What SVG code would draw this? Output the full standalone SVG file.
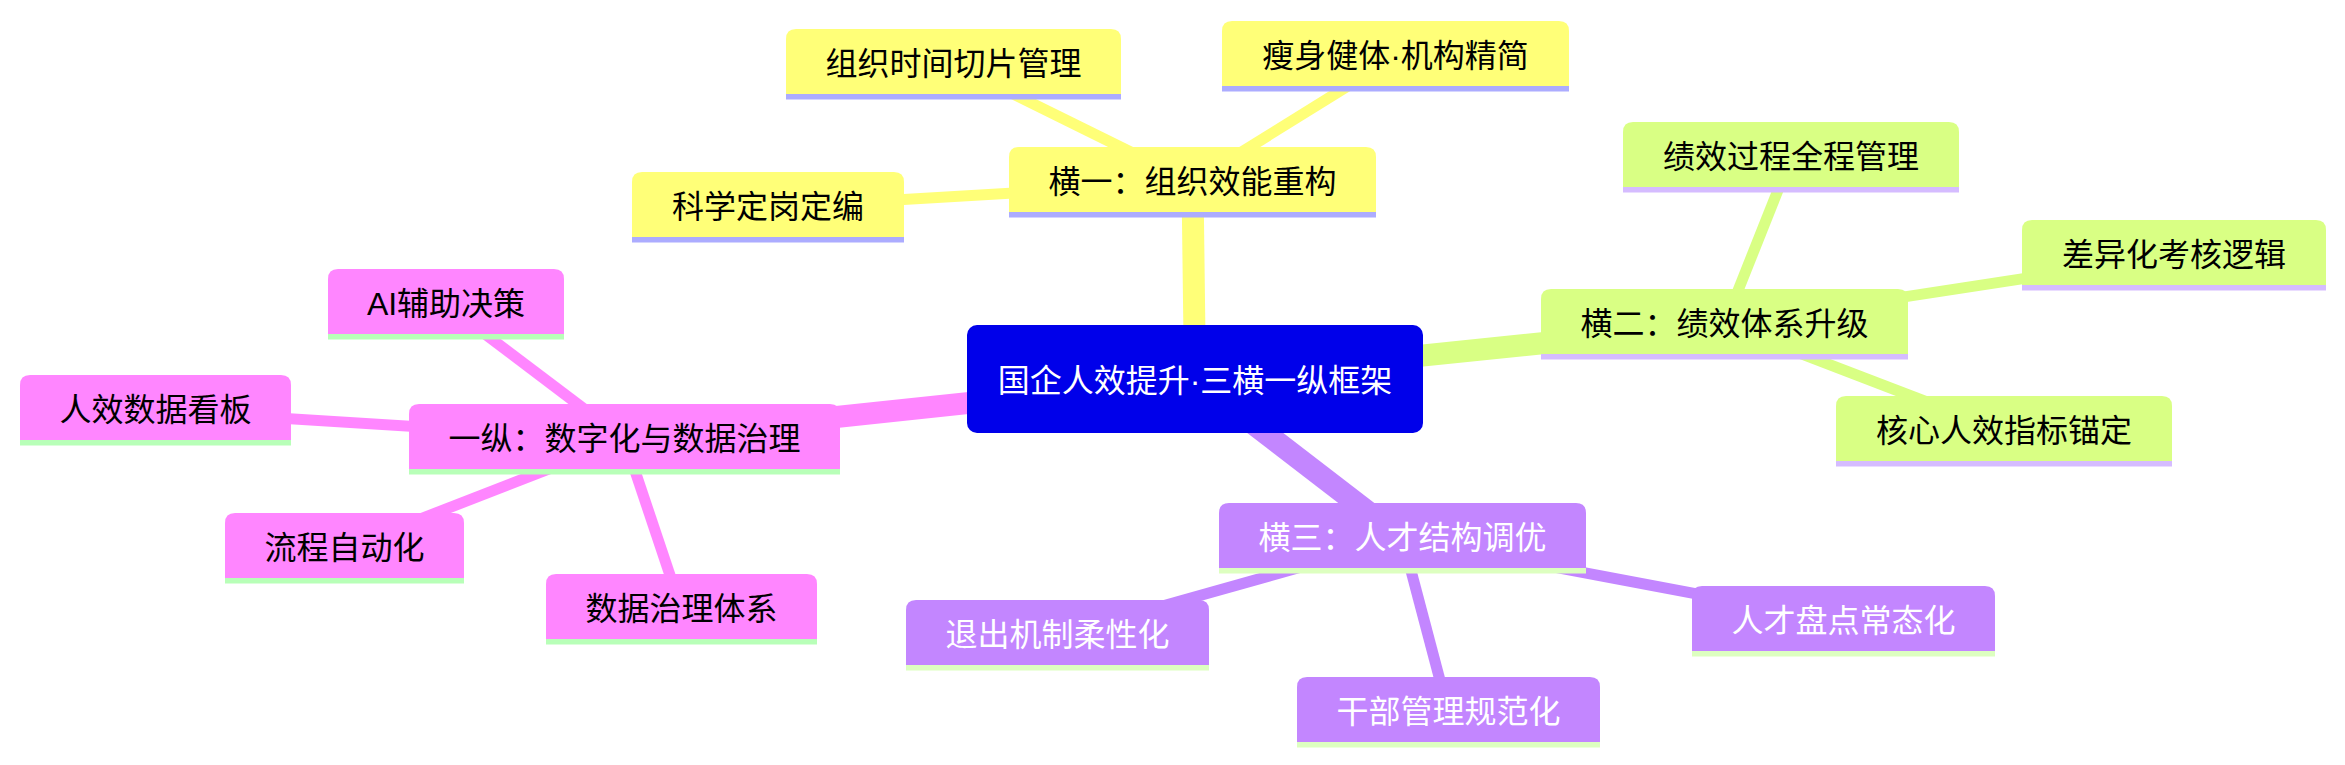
<svg xmlns="http://www.w3.org/2000/svg" width="2345" height="765" viewBox="0 0 2345 765">
<style>
text{font-family:"Liberation Sans","Noto Sans CJK SC",sans-serif;font-size:32px;text-anchor:middle}
.e0{stroke-width:22;stroke-linecap:butt;fill:none}
.e1{stroke-width:11;stroke-linecap:butt;fill:none}
.s0{fill:#ffff78}.s0e{stroke:#ffff78}.s0l{fill:#acacff}
.s1{fill:#d9ff84}.s1e{stroke:#d9ff84}.s1l{fill:#d5bcff}
.s2{fill:#c386ff}.s2e{stroke:#c386ff}.s2l{fill:#ddffc0}
.s3{fill:#ff86ff}.s3e{stroke:#ff86ff}.s3l{fill:#b8ffb8}
.dark{fill:#000}.light{fill:#fff}
</style>
<rect width="2345" height="765" fill="#fff"/>
<g id="connectors">
<line class="e0 s0e" x1="1195" y1="379" x2="1192.5" y2="182.5"/>
<line class="e1 s0e" x1="1192.5" y1="182.5" x2="953.5" y2="64.5"/>
<line class="e1 s0e" x1="1192.5" y1="182.5" x2="1395.5" y2="56.5"/>
<line class="e1 s0e" x1="1192.5" y1="182.5" x2="768" y2="207.5"/>
<line class="e0 s1e" x1="1195" y1="379" x2="1724.5" y2="324.5"/>
<line class="e1 s1e" x1="1724.5" y1="324.5" x2="1791" y2="157.5"/>
<line class="e1 s1e" x1="1724.5" y1="324.5" x2="2174" y2="255.5"/>
<line class="e1 s1e" x1="1724.5" y1="324.5" x2="2004" y2="431.5"/>
<line class="e0 s2e" x1="1195" y1="379" x2="1402.5" y2="538.5"/>
<line class="e1 s2e" x1="1402.5" y1="538.5" x2="1057.5" y2="635.5"/>
<line class="e1 s2e" x1="1402.5" y1="538.5" x2="1448.5" y2="712.5"/>
<line class="e1 s2e" x1="1402.5" y1="538.5" x2="1843.5" y2="621.5"/>
<line class="e0 s3e" x1="1195" y1="379" x2="624.5" y2="439.5"/>
<line class="e1 s3e" x1="624.5" y1="439.5" x2="446" y2="304.5"/>
<line class="e1 s3e" x1="624.5" y1="439.5" x2="155.5" y2="410.5"/>
<line class="e1 s3e" x1="624.5" y1="439.5" x2="344.5" y2="548.5"/>
<line class="e1 s3e" x1="624.5" y1="439.5" x2="681.5" y2="609.5"/>
</g>

<g id="root">
<rect x="967" y="325" width="456" height="108" rx="10" fill="#0000ea"/>
<text class="light" x="1195" y="392">国企人效提升·三横一纵框架</text>
</g>

<g id="h1">
<path class="s0" d="M1009,212 V157 Q1009,147 1019,147 H1366 Q1376,147 1376,157 V212 Z"/>
<rect class="s0l" x="1009" y="212" width="367" height="5.5"/>
<text class="dark" x="1192.5" y="193">横一：组织效能重构</text>
</g>
<g id="y1">
<path class="s0" d="M786,94 V39 Q786,29 796,29 H1111 Q1121,29 1121,39 V94 Z"/>
<rect class="s0l" x="786" y="94" width="335" height="5.5"/>
<text class="dark" x="953.5" y="75">组织时间切片管理</text>
</g>
<g id="y2">
<path class="s0" d="M1222,86 V31 Q1222,21 1232,21 H1559 Q1569,21 1569,31 V86 Z"/>
<rect class="s0l" x="1222" y="86" width="347" height="5.5"/>
<text class="dark" x="1395.5" y="67">瘦身健体·机构精简</text>
</g>
<g id="y3">
<path class="s0" d="M632,237 V182 Q632,172 642,172 H894 Q904,172 904,182 V237 Z"/>
<rect class="s0l" x="632" y="237" width="272" height="5.5"/>
<text class="dark" x="768" y="218">科学定岗定编</text>
</g>

<g id="h2">
<path class="s1" d="M1541,354 V299 Q1541,289 1551,289 H1898 Q1908,289 1908,299 V354 Z"/>
<rect class="s1l" x="1541" y="354" width="367" height="5.5"/>
<text class="dark" x="1724.5" y="335">横二：绩效体系升级</text>
</g>
<g id="g1">
<path class="s1" d="M1623,187 V132 Q1623,122 1633,122 H1949 Q1959,122 1959,132 V187 Z"/>
<rect class="s1l" x="1623" y="187" width="336" height="5.5"/>
<text class="dark" x="1791" y="168">绩效过程全程管理</text>
</g>
<g id="g2">
<path class="s1" d="M2022,285 V230 Q2022,220 2032,220 H2316 Q2326,220 2326,230 V285 Z"/>
<rect class="s1l" x="2022" y="285" width="304" height="5.5"/>
<text class="dark" x="2174" y="266">差异化考核逻辑</text>
</g>
<g id="g3">
<path class="s1" d="M1836,461 V406 Q1836,396 1846,396 H2162 Q2172,396 2172,406 V461 Z"/>
<rect class="s1l" x="1836" y="461" width="336" height="5.5"/>
<text class="dark" x="2004" y="442">核心人效指标锚定</text>
</g>

<g id="h3">
<path class="s2" d="M1219,568 V513 Q1219,503 1229,503 H1576 Q1586,503 1586,513 V568 Z"/>
<rect class="s2l" x="1219" y="568" width="367" height="5.5"/>
<text class="light" x="1402.5" y="549">横三：人才结构调优</text>
</g>
<g id="p1">
<path class="s2" d="M906,665 V610 Q906,600 916,600 H1199 Q1209,600 1209,610 V665 Z"/>
<rect class="s2l" x="906" y="665" width="303" height="5.5"/>
<text class="light" x="1057.5" y="646">退出机制柔性化</text>
</g>
<g id="p2">
<path class="s2" d="M1297,742 V687 Q1297,677 1307,677 H1590 Q1600,677 1600,687 V742 Z"/>
<rect class="s2l" x="1297" y="742" width="303" height="5.5"/>
<text class="light" x="1448.5" y="723">干部管理规范化</text>
</g>
<g id="p3">
<path class="s2" d="M1692,651 V596 Q1692,586 1702,586 H1985 Q1995,586 1995,596 V651 Z"/>
<rect class="s2l" x="1692" y="651" width="303" height="5.5"/>
<text class="light" x="1843.5" y="632">人才盘点常态化</text>
</g>

<g id="z">
<path class="s3" d="M409,469 V414 Q409,404 419,404 H830 Q840,404 840,414 V469 Z"/>
<rect class="s3l" x="409" y="469" width="431" height="5.5"/>
<text class="dark" x="624.5" y="450">一纵：数字化与数据治理</text>
</g>
<g id="k1">
<path class="s3" d="M328,334 V279 Q328,269 338,269 H554 Q564,269 564,279 V334 Z"/>
<rect class="s3l" x="328" y="334" width="236" height="5.5"/>
<text class="dark" x="446" y="315">AI辅助决策</text>
</g>
<g id="k2">
<path class="s3" d="M20,440 V385 Q20,375 30,375 H281 Q291,375 291,385 V440 Z"/>
<rect class="s3l" x="20" y="440" width="271" height="5.5"/>
<text class="dark" x="155.5" y="421">人效数据看板</text>
</g>
<g id="k3">
<path class="s3" d="M225,578 V523 Q225,513 235,513 H454 Q464,513 464,523 V578 Z"/>
<rect class="s3l" x="225" y="578" width="239" height="5.5"/>
<text class="dark" x="344.5" y="559">流程自动化</text>
</g>
<g id="k4">
<path class="s3" d="M546,639 V584 Q546,574 556,574 H807 Q817,574 817,584 V639 Z"/>
<rect class="s3l" x="546" y="639" width="271" height="5.5"/>
<text class="dark" x="681.5" y="620">数据治理体系</text>
</g>
</svg>
